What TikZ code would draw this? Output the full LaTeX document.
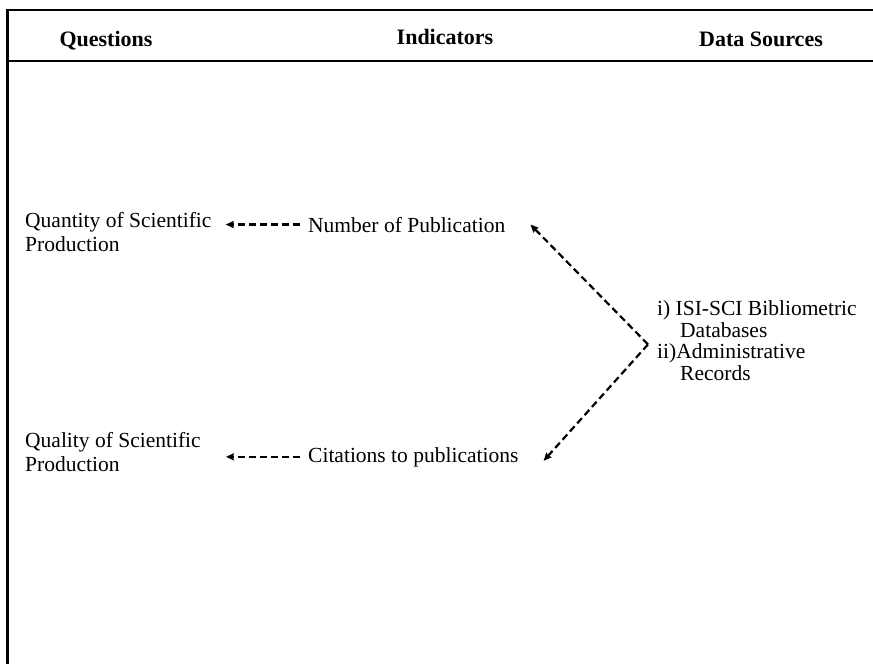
\documentclass[tikz,border=0pt]{standalone}
\usepackage{fontspec}
\setmainfont{Liberation Serif}
\usetikzlibrary{arrows.meta}
\tikzset{
  txt/.style={inner sep=0pt, align=left, font=\fontsize{21.5pt}{23.5pt}\selectfont},
  head/.style={inner sep=0pt, font=\fontsize{22pt}{24pt}\selectfont\bfseries},
  frameline/.style={line width=2.5pt},
  dasharrow/.style={line width=2.2pt, dash pattern=on 7pt off 4pt, -{Stealth[length=8pt,width=7pt,inset=1pt]}}
}
\begin{document}
\begin{tikzpicture}[x=1pt,y=-1pt]
\useasboundingbox (0,0) rectangle (873,664);
\draw[frameline] (873,10) -- (7.5,10) -- (7.5,664);
\draw[line width=2pt] (7.5,61) -- (873,61);
\node[head, anchor=base] (hq) at (106,46) {Questions};
\node[head, anchor=base] (hi) at (445,44) {Indicators};
\node[head, anchor=base] (hd) at (761,46) {Data Sources};

\node[txt, anchor=base west] (q1) at (25,251) {Quantity of Scientific\\Production};
\node[txt, anchor=base west] (q2) at (25,471) {Quality of Scientific\\Production};
\node[txt, anchor=base west] (n1) at (308,232) {Number of Publication};
\node[txt, anchor=base west] (c1) at (308,462) {Citations to publications};
\node[txt, anchor=base west, font=\fontsize{21.5pt}{21.5pt}\selectfont] (ds) at (657,380)
  {i) ISI-SCI Bibliometric\\\hspace*{23pt}Databases\\ii)Administrative\\\hspace*{23pt}Records};

\coordinate (j) at ([shift={(-9,4)}]ds.west);
\draw[dasharrow] ([xshift=-8pt]n1.west) -- ([xshift=14pt]n1.west -| q1.east);
\draw[dasharrow] ([xshift=-8pt]c1.west) -- ([xshift=25pt]c1.west -| q2.east);
\draw[dasharrow] (j) -- ([shift={(25,0)}]n1.east);
\draw[dasharrow] (j) -- ([shift={(25,4)}]c1.east);
\end{tikzpicture}
\end{document}
